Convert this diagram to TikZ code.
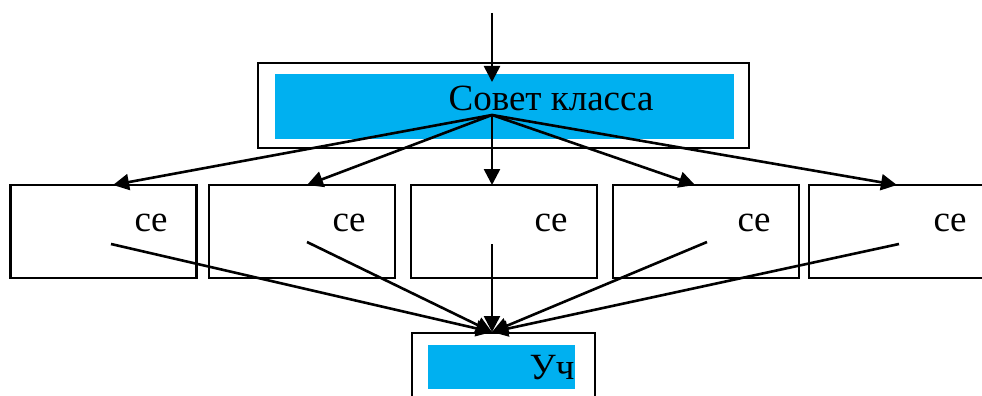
\documentclass[tikz,border=0pt]{standalone}
\usepackage{fontspec}
\setmainfont{Liberation Serif}
\usetikzlibrary{arrows.meta}
\definecolor{sovetblue}{RGB}{0,176,240}
\tikzset{
	frame/.style={draw, line width=2.2pt, fill=white, inner sep=0pt},
	band/.style={fill=sovetblue, inner sep=0pt},
	word/.style={inner sep=0pt, anchor=base, font=\fontsize{37}{40}\selectfont},
	link/.style={line width=2.6pt, -{Triangle[length=16pt,width=16pt]}},
}
\begin{document}
\begin{tikzpicture}[x=1pt, y=-1pt]
	\useasboundingbox (0,0) rectangle (982,396);

	% Council box at the top
	\node[frame, minimum width=491, minimum height=85] (sovet) at (503.5,105.5) {};
	\node[band, minimum width=459, minimum height=65] (sovetband) at (504.5,106.5) {};
	\node[word] (sovettext) at (551,110) {Совет класса};

	% Five sector boxes
	\node[frame, minimum width=186, minimum height=93] (s1) at (103.5,231.5) {};
	\node[frame, minimum width=186, minimum height=93] (s2) at (302,231.5) {};
	\node[frame, minimum width=186, minimum height=93] (s3) at (504,231.5) {};
	\node[frame, minimum width=186, minimum height=93] (s4) at (706,231.5) {};
	\node[frame, minimum width=186, minimum height=93] (s5) at (902,231.5) {};
	\node[word] (t1) at (151,231) {ce};
	\node[word] (t2) at (349,231) {ce};
	\node[word] (t3) at (551,231) {ce};
	\node[word] (t4) at (754,231) {ce};
	\node[word] (t5) at (950,231) {ce};

	% Pupils box at the bottom
	\node[frame, minimum width=183, minimum height=80] (uch) at (503.5,373) {};
	\node[band, minimum width=147, minimum height=44] (uchband) at (501.5,367) {};
	\node[word] (uchtext) at (552,379) {Уч};

	% Arrow ends
	\coordinate (src) at (492,13);
	\coordinate (srcend) at (492,82);
	\coordinate (hub) at (492,115);
	\coordinate (in1) at (113,185);
	\coordinate (in2) at (307,185);
	\coordinate (in3) at (492,185);
	\coordinate (in4) at (695,185);
	\coordinate (in5) at (897,185);
	\coordinate (out1) at (111,244);
	\coordinate (out2) at (307,242);
	\coordinate (out3) at (492,244);
	\coordinate (out4) at (707,242);
	\coordinate (out5) at (899,244);
	\coordinate (sink) at (492,332);

	% Draw the connectors
	\draw[link] (src) -- (srcend);
	\draw[link] (hub) -- (in1);
	\draw[link] (hub) -- (in2);
	\draw[link] (hub) -- (in3);
	\draw[link] (hub) -- (in4);
	\draw[link] (hub) -- (in5);
	\draw[link] (out1) -- (sink);
	\draw[link] (out2) -- (sink);
	\draw[link] (out3) -- (sink);
	\draw[link] (out4) -- (sink);
	\draw[link] (out5) -- (sink);
\end{tikzpicture}
\end{document}
